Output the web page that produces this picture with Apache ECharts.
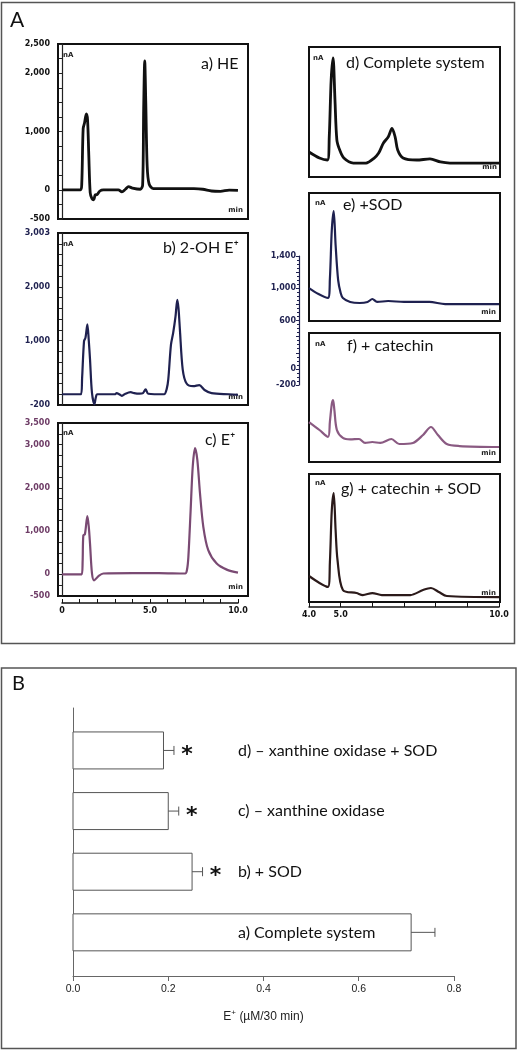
<!DOCTYPE html>
<html><head><meta charset="utf-8">
<script src="https://cdn.jsdelivr.net/npm/echarts@6/dist/echarts.min.js"></script>
<style>html,body{margin:0;padding:0;background:#fff}#c{width:518px;height:1050px}</style>
</head><body><div id="c"></div>
<script>
// ---------- DATA ----------
// Panel A, left column: time (min) vs signal (nA)
const traceA = [[0,0],[1.05,0],[1.12,100],[1.2,1050],[1.28,1150],[1.38,1300],[1.45,1200],[1.52,600],[1.6,-50],[1.7,-150],[1.8,-170],[1.88,-90],[2.0,-80],[2.15,-20],[2.35,0],[3.2,0],[3.4,-35],[3.6,10],[3.78,55],[4.0,30],[4.45,10],[4.58,80],[4.64,1400],[4.7,2210],[4.76,1500],[4.84,400],[4.95,100],[5.2,20],[6.5,20],[7.5,20],[8.0,10],[8.5,-20],[9.0,-25],[9.5,-5],[10,-10]];
const traceB = [[0,0],[1.08,0],[1.14,300],[1.25,990],[1.33,1050],[1.44,1300],[1.52,1000],[1.59,650],[1.7,30],[1.84,-185],[1.92,-60],[2.0,0],[3.0,0],[3.1,20],[3.25,0],[3.4,-30],[3.6,10],[3.9,40],[4.1,20],[4.4,10],[4.6,20],[4.75,90],[4.9,10],[5.8,0],[5.95,100],[6.04,280],[6.19,920],[6.32,1150],[6.45,1450],[6.55,1760],[6.62,1600],[6.7,1200],[6.86,460],[7.08,200],[7.46,150],[7.8,170],[8.1,80],[8.5,20],[9.5,0],[10,-10]];
const traceC = [[0,0],[1.12,0],[1.17,300],[1.21,900],[1.3,930],[1.44,1350],[1.52,1100],[1.59,710],[1.7,30],[1.82,-140],[2.07,-40],[2.35,20],[4.0,30],[5.5,30],[7.0,20],[7.1,100],[7.18,400],[7.31,1490],[7.43,2500],[7.56,2920],[7.69,2650],[7.84,1880],[8.03,1100],[8.31,560],[8.79,250],[9.36,110],[10,40]];
// Panel A, right column (4.0 - 10.0 min)
const traceD = [[4.0,108],[4.33,34],[4.58,9],[4.64,300],[4.7,1000],[4.76,1265],[4.82,748],[4.88,255],[4.97,132],[5.1,34],[5.4,-28],[5.8,-28],[6.05,30],[6.2,95],[6.35,218],[6.5,292],[6.62,397],[6.72,292],[6.8,132],[6.97,34],[7.4,9],[7.82,22],[8.15,-15],[8.45,-28],[10,-28]];
const traceE = [[4.0,212],[4.3,138],[4.6,88],[4.66,330],[4.72,940],[4.78,1175],[4.84,750],[4.92,310],[5.0,150],[5.07,88],[5.3,38],[5.6,25],[5.85,38],[6.0,75],[6.15,38],[6.5,50],[7.0,38],[7.8,38],[8.3,12],[10,12]];
const traceF = [[4.0,296],[4.33,197],[4.6,110],[4.66,300],[4.72,520],[4.76,569],[4.8,450],[4.88,197],[5.07,98],[5.3,80],[5.58,85],[5.77,36],[6.0,48],[6.25,36],[6.6,85],[6.85,23],[7.28,36],[7.6,135],[7.85,234],[8.07,135],[8.35,23],[8.75,-2],[10,-14]];
const traceG = [[4.0,125],[4.33,38],[4.6,-12],[4.66,300],[4.72,950],[4.78,1162],[4.84,700],[4.9,325],[5.07,-50],[5.5,-88],[5.7,-113],[6.0,-88],[6.3,-113],[7.2,-113],[7.6,-50],[7.85,-25],[8.1,-75],[8.35,-125],[10,-138]];
// Tick labels
const ticksA = [-500,0,1000,2000,2500];
const ticksB = [-200,1000,2000,3003];
const ticksC = [-500,0,1000,2000,3000,3500];
const ticksE = [-200,0,600,1000,1400];
const timeTicksLeft = [0,5,10];
const timeTicksRight = [4,5,10];
// Panel B
const barCats = ['a) Complete system','b) + SOD','c) \u2013 xanthine oxidase','d) \u2013 xanthine oxidase + SOD'];
const barVals = [0.71,0.25,0.20,0.19];
const barErrs = [0.05,0.022,0.022,0.022];
const barSig = [false,true,true,true];
const barTicks = [0,0.2,0.4,0.6,0.8];

// ---------- BUILD ----------
const chart = echarts.init(document.getElementById('c'), null, {renderer:'canvas'});
const grids = [], xAxes = [], yAxes = [], series = [];
const numFmt = v => v.toLocaleString('en-US');
const lblFont = {fontFamily:'DejaVu Sans', fontWeight:'bold', fontSize:8};

function addGrid(g, xa, ya){ grids.push(g); const i = grids.length-1; xAxes.push(Object.assign({gridIndex:i, splitLine:{show:false}}, xa)); yAxes.push(Object.assign({gridIndex:i, splitLine:{show:false}}, ya)); return i; }
function boxGrid(left, top, w, h){ return {left, top, width:w, height:h, show:true, borderColor:'#111', borderWidth:2, backgroundColor:'transparent'}; }

function leftPanel(top, h, min, max, interval, ticks, color, lblColor, trace, lw){
  const i = addGrid(boxGrid(58, top, 190, h),
    {type:'value', min:-0.23, max:10.57, show:false},
    {type:'value', min, max, interval, offset:5,
      axisLine:{show:true, lineStyle:{color:'#222', width:1.2}},
      axisTick:{show:true, length:3, lineStyle:{color:'#222'}},
      minorTick:{show:false},
      axisLabel:Object.assign({color:lblColor, margin:3, showMinLabel:true, showMaxLabel:true,
        formatter:v => ticks.indexOf(v) >= 0 ? numFmt(v) : ''}, lblFont)});
  series.push({type:'line', xAxisIndex:i, yAxisIndex:i, data:trace, showSymbol:false, smooth:0.3,
    lineStyle:{color, width:lw}, silent:true});
}
function rightPanel(top, h, color, trace, lw){
  const i = addGrid(boxGrid(309, top, 191, h),
    {type:'value', min:4, max:10.03, show:false},
    {type:'value', min:-200, max:1400, show:false});
  series.push({type:'line', xAxisIndex:i, yAxisIndex:i, data:trace, showSymbol:false, smooth:0.3,
    lineStyle:{color, width:lw}, silent:true});
}

leftPanel(44, 175, -500, 2500, 250, ticksA, '#111', '#111', traceA, 2.8);
leftPanel(233, 172, -200, 3003, 200, ticksB, '#1f2150', '#1f2150', traceB, 2.2);
leftPanel(423, 173, -500, 3500, 250, ticksC, '#7a4a73', '#6e3c66', traceC, 2.2);

// left time axis
addGrid({left:62, width:176, top:590, height:13},
  {type:'value', min:0, max:10, interval:1, position:'bottom',
   axisLine:{show:true, lineStyle:{color:'#111', width:1.5}},
   axisTick:{show:true, inside:true, length:4, lineStyle:{color:'#111'}},
   axisLabel:Object.assign({color:'#111', margin:4, formatter:v => timeTicksLeft.indexOf(v) >= 0 ? (v===0 ? '0' : v.toFixed(1)) : ''}, lblFont)},
  {type:'value', min:0, max:1, show:false});

rightPanel(47, 130, '#111', traceD, 2.8);
rightPanel(193, 128, '#1f2150', traceE, 2.2);
rightPanel(333, 129, '#8a5a82', traceF, 2.2);
rightPanel(474, 128, '#2b1a1a', traceG, 2.2);

// right time axis
addGrid({left:309, width:190, top:594, height:13},
  {type:'value', min:4, max:10, interval:1, position:'bottom',
   axisLine:{show:true, lineStyle:{color:'#111', width:1.5}},
   axisTick:{show:true, inside:true, length:4, lineStyle:{color:'#111'}},
   axisLabel:Object.assign({color:'#111', margin:4, formatter:v => timeTicksRight.indexOf(v) >= 0 ? v.toFixed(1) : ''}, lblFont)},
  {type:'value', min:0, max:1, show:false});

// free-standing y axis between e and f
addGrid({left:299, width:1, top:256, height:129},
  {type:'value', min:0, max:1, show:false},
  {type:'value', min:-200, max:1400, interval:200,
   axisLine:{show:true, lineStyle:{color:'#1f2150', width:1.2}},
   axisTick:{show:true, length:3, lineStyle:{color:'#1f2150'}},
   minorTick:{show:true, splitNumber:4, length:2, lineStyle:{color:'#1f2150'}},
   axisLabel:Object.assign({color:'#1f2150', margin:3, showMinLabel:true, showMaxLabel:true,
     formatter:v => ticksE.indexOf(v) >= 0 ? numFmt(v) : ''}, lblFont)});

// Panel B bar chart
const bi = addGrid({left:73, width:381, top:708, height:268},
  {type:'value', min:0, max:0.8, interval:0.2,
   axisLine:{show:true, onZero:false, lineStyle:{color:'#666', width:1}},
   axisTick:{show:true, length:5, lineStyle:{color:'#666'}},
   axisLabel:{color:'#222', fontFamily:'Liberation Sans, Arial', fontSize:10.5, margin:8, formatter:v => barTicks.some(t => Math.abs(t-v)<1e-9) ? v.toFixed(1) : ''},
   name:'E{sup|+} (\u00b5M/30 min)', nameLocation:'middle', nameGap:33,
   nameTextStyle:{color:'#222', fontFamily:'Liberation Sans, Arial', fontSize:12,
     rich:{sup:{fontSize:8, verticalAlign:'top', padding:[0,0,7,0], color:'#222', fontFamily:'Liberation Sans, Arial'}}}},
  {type:'value', min:-0.72, max:3.7,
   axisLine:{show:true, onZero:false, lineStyle:{color:'#666', width:1}},
   axisTick:{show:false}, axisLabel:{show:false}});

series.push({type:'custom', xAxisIndex:bi, yAxisIndex:bi, silent:true,
  data: barVals.map((v,k) => [v, k, barErrs[k]]),
  renderItem:(params, api) => {
    const v = api.value(0), k = api.value(1), e = api.value(2);
    const p0 = api.coord([0,k]), p1 = api.coord([v,k]), p2 = api.coord([v+e,k]);
    const h = api.size([0,1])[1]*0.61;
    const ch = [
      {type:'rect', shape:{x:p0[0], y:p1[1]-h/2, width:p1[0]-p0[0], height:h}, style:{fill:'#fff', stroke:'#555', lineWidth:1}},
      {type:'line', shape:{x1:p1[0], y1:p1[1], x2:p2[0], y2:p2[1]}, style:{stroke:'#555', lineWidth:1}},
      {type:'line', shape:{x1:p2[0], y1:p2[1]-4.5, x2:p2[0], y2:p2[1]+4.5}, style:{stroke:'#555', lineWidth:1}},
      {type:'text', x:p0[0]+165, y:p1[1], style:{text:barCats[k], fill:'#111', font:'16px Lato, sans-serif', textVerticalAlign:'middle', textAlign:'left'}}
    ];
    if (barSig[k]) ch.push({type:'text', x:p2[0]+13, y:p1[1]+5, style:{text:'*', fill:'#111', font:'bold 22px "DejaVu Sans", sans-serif', textVerticalAlign:'middle', textAlign:'center'}});
    return {type:'group', children:ch};
  }});

// ---------- TEXT / FRAMES ----------
const tFont = '16px Lato, sans-serif';
const gfx = [
  {type:'rect', shape:{x:1.5, y:2.5, width:513, height:641}, style:{fill:'none', stroke:'#555', lineWidth:1.5}},
  {type:'rect', shape:{x:1.5, y:668, width:514.5, height:380.5}, style:{fill:'none', stroke:'#555', lineWidth:1.5}},
  {type:'text', x:10, y:20, style:{text:'A', font:'21px Lato, sans-serif', fill:'#111', textVerticalAlign:'middle'}},
  {type:'text', x:12, y:684, style:{text:'B', font:'20px Lato, sans-serif', fill:'#111', textVerticalAlign:'middle'}},
  {type:'text', x:201, y:64, style:{text:'a) HE', font:tFont, fill:'#111', textVerticalAlign:'middle'}},
  {type:'text', x:163, y:248, style:{text:'b) 2-OH E\u207a', font:tFont, fill:'#111', textVerticalAlign:'middle'}},
  {type:'text', x:205, y:440, style:{text:'c) E\u207a', font:tFont, fill:'#111', textVerticalAlign:'middle'}},
  {type:'text', x:346, y:63, style:{text:'d) Complete system', font:tFont, fill:'#111', textVerticalAlign:'middle'}},
  {type:'text', x:343, y:205, style:{text:'e) +SOD', font:tFont, fill:'#111', textVerticalAlign:'middle'}},
  {type:'text', x:347, y:346, style:{text:'f) + catechin', font:tFont, fill:'#111', textVerticalAlign:'middle'}},
  {type:'text', x:341, y:489, style:{text:'g) + catechin + SOD', font:tFont, fill:'#111', textVerticalAlign:'middle'}}
];
const nAPos = [[63,55],[63,244],[63,433],[313,58],[315,203],[315,344],[315,483]];
nAPos.forEach(p => gfx.push({type:'text', x:p[0], y:p[1], style:{text:'nA', font:'bold 7px "DejaVu Sans"', fill:'#222', textVerticalAlign:'middle'}}));
const minPos = [[243,210],[243,397],[243,587],[497,167],[496,312],[496,453],[496,593]];
minPos.forEach(p => gfx.push({type:'text', x:p[0], y:p[1], style:{text:'min', font:'bold 7px "DejaVu Sans"', fill:'#222', textVerticalAlign:'middle', textAlign:'right'}}));

chart.setOption({
  animation:false,
  backgroundColor:'#fff',
  grid:grids, xAxis:xAxes, yAxis:yAxes, series,
  graphic:{elements:gfx}
});
</script></body></html>
